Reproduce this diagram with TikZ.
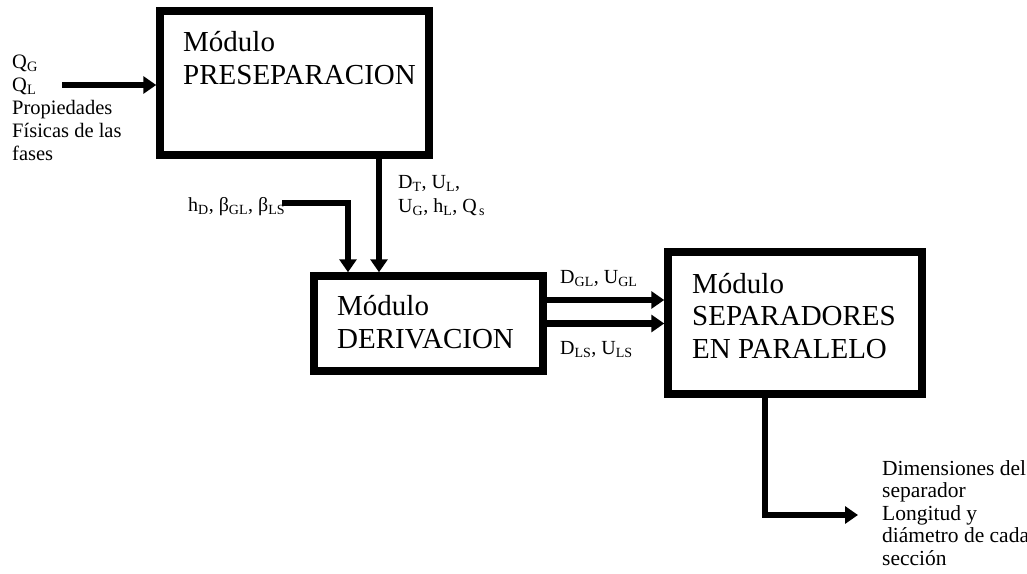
\documentclass[tikz,border=0pt]{standalone}
\usepackage{fontspec}
\setmainfont{Liberation Serif}
\usetikzlibrary{arrows.meta,calc}
\tikzset{%
  modbox/.style  = {shape=rectangle, draw, line width=7.5pt, inner sep=0pt},%
  modtext/.style = {font=\fontsize{29}{32.5}\selectfont, align=left,%
                    inner sep=0pt, anchor=base west},%
  vartext/.style = {font=\fontsize{20}{24}\selectfont, align=left,%
                    inner sep=0pt, anchor=base west},%
  intext/.style  = {vartext, font=\fontsize{20.5}{23}\selectfont},%
  outtext/.style = {vartext, font=\fontsize{21.5}{22.5}\selectfont},%
  flow/.style    = {line width=6.5pt, -{Triangle[length=13pt,width=17pt]}}%
}

\begin{document}
\begin{tikzpicture}[x=1pt,y=-1pt]
	\useasboundingbox (0,0) rectangle (1027,573);%
	% modules (text is placed by the baseline of its last line)
	\node[modbox, minimum width=269pt, minimum height=144pt] (prep) at (294.5,83) {};%
	\node[modbox, minimum width=229pt, minimum height=95pt] (deriv) at (428.5,323.5) {};%
	\node[modbox, minimum width=254pt, minimum height=142pt] (sep) at (795,323) {};%
	\node[modtext] (prept) at (183,84) {Módulo\\PRESEPARACION};%
	\node[modtext] (derivt) at (337,348) {Módulo\\DERIVACION};%
	\node[modtext] (sept) at (692,358) {Módulo\\SEPARADORES\\EN PARALELO};%
	% variables
	\node[intext] (inputs) at (12,160) {Q\textsubscript{G}\\Q\textsubscript{L}\\Propiedades\\Físicas de las\\fases};%
	\node[vartext] (dtul) at (398,212) {D\textsubscript{T}, U\textsubscript{L},\\U\textsubscript{G}, h\textsubscript{L}, Q\textsubscript{\,s}};%
	\node[vartext] (params) at (188,211) {h\textsubscript{D}, β\textsubscript{GL}, β\textsubscript{LS}};%
	\node[vartext] (dgl) at (560,283) {D\textsubscript{GL}, U\textsubscript{GL}};%
	\node[vartext] (dls) at (560,354) {D\textsubscript{LS}, U\textsubscript{LS}};%
	\node[outtext] (result) at (882,565) {Dimensiones del\\separador\\Longitud y\\diámetro de cada\\sección};%
	% connectors
	\coordinate (qin) at (62,85);%
	\coordinate (hin) at (282,203);%
	\coordinate (pcol) at (379,0);%
	\coordinate (hcol) at (348,0);%
	\coordinate (grow) at (0,300);%
	\coordinate (ocol) at (765,0);%
	\coordinate (res) at (858,515);%
	\draw[flow] (qin) -- (qin -| prep.west);%
	\draw[flow] (prep.south -| pcol) -- (pcol |- deriv.north);%
	\draw[flow] (hin) -| (hcol |- deriv.north);%
	\draw[flow] (grow -| deriv.east) -- (grow -| sep.west);%
	\draw[flow] (deriv.east) -- (deriv.east -| sep.west);%
	\draw[flow] (sep.south -| ocol) |- (res);%
\end{tikzpicture}
\end{document}
